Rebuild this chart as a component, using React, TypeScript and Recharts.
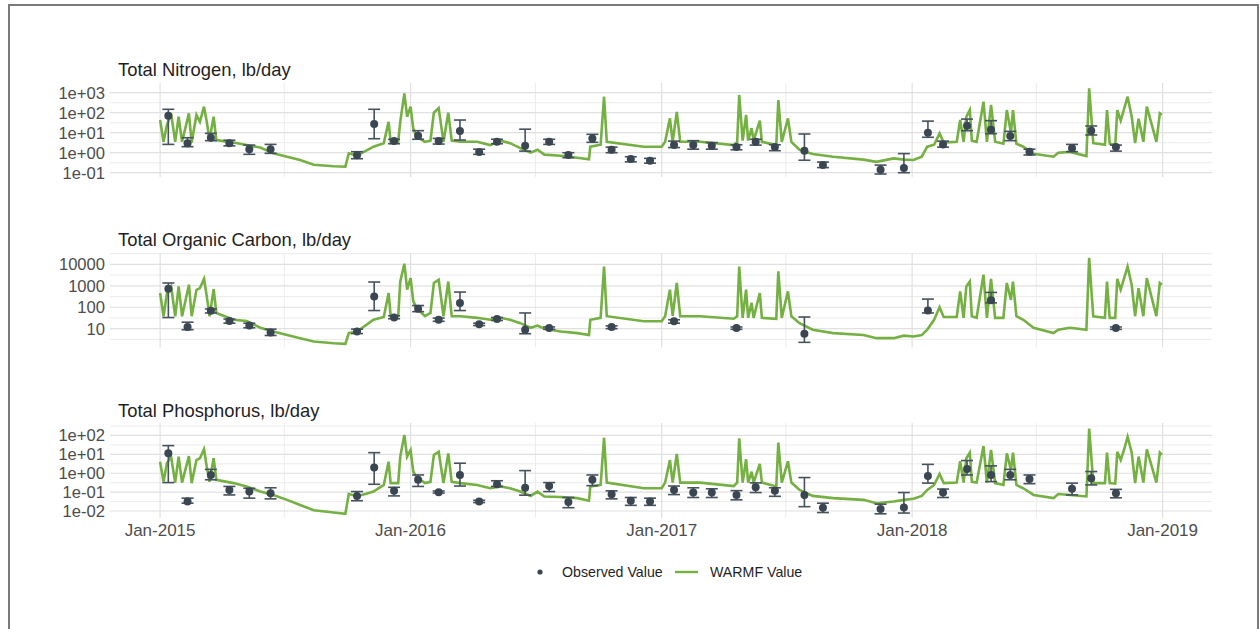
import React from "react";
import {
  ComposedChart,
  Line,
  Scatter,
  ErrorBar,
  XAxis,
  YAxis,
  CartesianGrid,
} from "recharts";

// all dates are days counted from 2015-01-01
const modelDays = [
  0, 5, 10, 16, 22, 27, 32, 42, 46, 53, 58, 64, 68, 72, 78, 82, 107, 126, 146, 165,
  185, 204, 224, 253, 270, 275, 287, 311, 326, 333, 336, 347, 350, 356, 360, 365,
  369, 374, 386, 394, 399, 406, 413, 420, 425, 438, 462, 481, 496, 510, 525, 540,
  550, 560, 584, 608, 625, 627, 642, 647, 651, 705, 731, 736, 743, 747, 753, 758,
  787, 836, 841, 844, 849, 854, 857, 862, 865, 874, 877, 898, 901, 906, 915, 920,
  932, 951, 981, 1025, 1044, 1069, 1084, 1098, 1110, 1118, 1128, 1136, 1142, 1161,
  1166, 1171, 1175, 1180, 1183, 1190, 1200, 1205, 1211, 1217, 1229, 1234, 1240,
  1243, 1248, 1258, 1273, 1302, 1309, 1326, 1350, 1354, 1360, 1377, 1380, 1384,
  1392, 1395, 1400, 1405, 1410, 1416, 1421, 1426, 1433, 1438, 1446, 1452, 1457, 1460,
];

const tnModel = [
  43, 3.5, 25, 93, 3.5, 63, 3.5, 93, 3.2, 77, 35, 200, 35, 4.3, 63, 4.3, 3.2, 2.4, 1.8, 0.93,
  0.63, 0.43, 0.25, 0.21, 0.2, 0.93, 0.71, 2.0, 3.0, 35, 3.5, 3.5, 35, 930, 63, 200,
  16, 6.3, 3.5, 4.0, 100, 170, 3.5, 100, 4.0, 3.5, 3.5, 2.4, 4.0, 3.0, 1.7, 1.0,
  1.4, 0.8, 0.71, 0.56, 0.47, 2.0, 2.5, 630, 3.5, 2.0, 2.0, 3.5, 52, 3.5, 110, 3.5,
  3.5, 2.4, 3.5, 770, 4.0, 77, 4.0, 17, 4.0, 40, 3.5, 2.4, 430, 3.5, 52, 3.5,
  1.4, 0.86, 0.63, 0.45, 0.35, 0.52, 0.45, 0.43, 0.63, 2.0, 2.5, 9.3, 3.2, 3.5,
  43, 3.5, 63, 135, 4.0, 3.5, 355, 3.5, 243, 3.5, 2.8, 135, 10,
  135, 2.8, 2.0, 0.89, 0.63, 1.0, 1.1, 0.68, 1660, 3.0, 2.5, 135, 2.8,
  2.5, 135, 40, 160, 630, 63, 3.0, 50, 3.5, 200, 20, 3.5, 93, 79,
];

const tocModel = [
  460, 38, 460, 930, 38, 930, 38, 1120, 38, 650, 780, 2100, 320, 38, 690, 54, 26, 23, 11, 7.4,
  5.1, 3.6, 2.5, 2.1, 1.95, 6.2, 7.4, 26, 35, 460, 38, 38, 1580, 10700, 660, 2300,
  186, 91, 38, 54, 1350, 1900, 38, 1580, 38, 38, 32, 26, 32, 26, 18, 11,
  14, 10, 7.4, 6.2, 5.1, 26, 32, 7900, 38, 22, 22, 38, 660, 40, 1350, 38,
  38, 29, 38, 7900, 32, 660, 32, 160, 32, 460, 32, 29, 4700, 32, 550, 38,
  18, 8.9, 6.2, 5.1, 3.6, 3.6, 4.7, 4.3, 5.0, 8.9, 26, 100, 35, 35,
  550, 32, 930, 1580, 38, 32, 3300, 32, 2100, 32, 32, 1350, 220,
  1580, 38, 26, 11, 6.2, 8.9, 11, 8.9, 20000, 38, 32, 1580, 32,
  32, 2100, 660, 2300, 7900, 1120, 38, 780, 38, 2300, 220, 38, 1350, 1120,
];

const tpModel = [
  4.1, 0.36, 3.4, 7.6, 0.32, 7.6, 0.32, 8.1, 0.3, 5.0, 6.2, 18.6, 2.2, 0.35, 6.2, 0.45, 0.3, 0.2, 0.107, 0.071,
  0.039, 0.021, 0.011, 0.0083, 0.0071, 0.081, 0.059, 0.107, 0.24, 4.1, 0.3, 0.3, 7.6, 105, 7.6, 17,
  1.2, 0.62, 0.3, 0.35, 9.3, 13.8, 0.3, 11.2, 0.35, 0.3, 0.24, 0.16, 0.2, 0.16, 0.107, 0.063,
  0.107, 0.059, 0.055, 0.048, 0.035, 0.2, 0.24, 76, 0.32, 0.16, 0.16, 0.32, 5.0, 0.32, 10.5, 0.32,
  0.32, 0.21, 0.32, 71, 0.32, 5.5, 0.32, 1.2, 0.32, 3.1, 0.32, 0.2, 42, 0.32, 4.3, 0.32,
  0.13, 0.063, 0.048, 0.039, 0.026, 0.032, 0.039, 0.045, 0.063, 0.13, 0.24, 0.91, 0.3, 0.32,
  4.3, 0.32, 6.2, 12.3, 0.35, 0.32, 27.5, 0.32, 17, 0.3, 0.24, 11.2, 1.5,
  12.3, 0.24, 0.16, 0.071, 0.048, 0.079, 0.071, 0.059, 234, 0.3, 0.3, 12.3, 0.3,
  0.28, 13.8, 5.0, 18.6, 85, 12.3, 0.3, 7.6, 0.32, 18.6, 1.8, 0.32, 12.3, 9.3,
];

const obsDays = [
  12, 40, 74, 101, 130, 161, 287, 312, 341, 376, 406, 437, 465, 491, 532, 567, 595, 630, 658, 686,
  714, 749, 777, 804, 840, 868, 896, 939, 966, 1050, 1084, 1119, 1141, 1176, 1211, 1239, 1267, 1329, 1357, 1393,
];
const tnObs = [
  71, 3.0, 5.6, 3.0, 1.5, 1.5, 0.74, 27, 3.8, 7.0, 3.8, 12, 1.07, 3.5, 2.2, 3.5, 0.77, 5.2, 1.4, 0.48,
  0.4, 2.4, 2.4, 2.2, 1.9, 3.5, 1.9, 1.26, 0.24, 0.14, 0.17, 10, 2.6, 22, 14, 6.8, 1.1, 1.65, 12.6, 1.9,
];
const tnLow = [
  2.6, 2.0, 4.0, 2.2, 0.83, 0.93, 0.5, 5.0, 2.8, 4.7, 2.7, 4.3, 0.83, 2.8, 1.2, 2.6, 0.56, 3.3, 1.0, 0.35,
  0.3, 1.8, 1.5, 1.5, 1.4, 2.4, 1.26, 0.42, 0.18, 0.086, 0.1, 5.9, 1.9, 12.6, 8.9, 4.0, 0.77, 1.12, 7.7, 1.2,
];
const tnHigh = [
  148, 5.6, 9.3, 4.2, 2.4, 2.6, 1.12, 148, 4.7, 12.6, 5.2, 43, 1.5, 4.7, 15, 4.7, 1.0, 8.3, 1.9, 0.63,
  0.52, 3.8, 4.0, 3.2, 2.5, 4.7, 2.5, 8.6, 0.34, 0.24, 0.9, 38, 3.8, 48, 40, 11.7, 1.5, 2.6, 21.6, 2.4,
];

const tocObsDays = [
  12, 40, 74, 101, 130, 161, 287, 312, 341, 376, 406, 437, 465, 491, 532, 567, 658, 749, 840, 939, 1119, 1211, 1393,
];
const tocObs = [730, 12, 69, 23, 14, 6.6, 7.4, 316, 33, 85, 26, 158, 16, 28, 8.9, 10.7, 11.8, 22, 10.7, 5.8, 70, 210, 10.7];
const tocLow = [33, 8.9, 54, 18, 11, 4.8, 5.9, 70, 29, 62, 22, 70, 14, 24, 5.8, 9.3, 10, 18, 9.3, 2.3, 54, 160, 9.3];
const tocHigh = [1350, 20, 83, 28, 18, 9.5, 9.5, 1500, 40, 120, 31, 510, 18, 33, 54, 12, 13.5, 26, 12, 35, 240, 490, 12];

const tpObs = [
  11.4, 0.032, 0.81, 0.13, 0.107, 0.087, 0.063, 2.0, 0.12, 0.45, 0.1, 0.81, 0.032, 0.26, 0.17, 0.21, 0.03, 0.45, 0.078, 0.035,
  0.032, 0.13, 0.095, 0.095, 0.071, 0.18, 0.12, 0.07, 0.015, 0.0126, 0.0155, 0.72, 0.095, 1.7, 0.81, 0.81, 0.5, 0.15, 0.55, 0.087,
];
const tpLow = [
  0.32, 0.026, 0.45, 0.071, 0.048, 0.044, 0.035, 0.26, 0.063, 0.2, 0.089, 0.21, 0.028, 0.2, 0.069, 0.107, 0.015, 0.22, 0.044, 0.02,
  0.02, 0.074, 0.052, 0.052, 0.039, 0.095, 0.06, 0.017, 0.0083, 0.0071, 0.0078, 0.3, 0.052, 0.81, 0.36, 0.45, 0.28, 0.071, 0.24, 0.05,
];
const tpHigh = [
  29, 0.048, 1.6, 0.2, 0.16, 0.17, 0.107, 12.3, 0.18, 0.81, 0.115, 3.4, 0.037, 0.4, 1.38, 0.32, 0.052, 0.81, 0.117, 0.052,
  0.048, 0.21, 0.17, 0.15, 0.12, 0.31, 0.17, 0.59, 0.026, 0.023, 0.095, 2.95, 0.145, 4.7, 2.45, 1.6, 0.81, 0.3, 1.23, 0.14,
];

const yearTicks = [0, 365, 731, 1096, 1461];
const yearLabels = ["Jan-2015", "Jan-2016", "Jan-2017", "Jan-2018", "Jan-2019"];
const midYears = [181, 547, 912, 1277];

const FONT = "'Liberation Sans', Arial, Helvetica, sans-serif";
const GREEN = "#75b043";
const SLATE = "#3a4652";

const sciLabel = (v: number) => {
  const e = Math.round(Math.log10(v));
  return `1e${e < 0 ? "-" : "+"}${String(Math.abs(e)).padStart(2, "0")}`;
};
const plainLabel = (v: number) => String(Math.round(v));

const Dot = (p: any) => <circle cx={p.cx} cy={p.cy} r={4} fill={SLATE} />;

interface PanelProps {
  top: number;
  height: number;
  model: number[];
  days: number[];
  obs: number[];
  low: number[];
  high: number[];
  domain: [number, number];
  majors: number[];
  minors: number[];
  fmt: (v: number) => string;
  showX?: boolean;
}

function Panel({ top, height, model, days, obs, low, high, domain, majors, minors, fmt, showX }: PanelProps) {
  const lineData = modelDays.map((d, i) => ({ day: d, v: model[i] }));
  const obsData = days.map((d, i) => ({ day: d, v: obs[i], err: [obs[i] - low[i], high[i] - obs[i]] }));
  return (
    <div style={{ position: "absolute", left: 0, top, width: 1259, height }}>
      <ComposedChart width={1259} height={height} margin={{ top: 10, right: 47, bottom: showX ? 0 : 10, left: 0 }}>
        <CartesianGrid horizontalValues={minors} verticalValues={midYears} stroke="#ececec" strokeWidth={1} />
        <CartesianGrid horizontalValues={majors} verticalValues={yearTicks} stroke="#e0e0e0" strokeWidth={1.2} />
        <XAxis
          type="number"
          dataKey="day"
          domain={[-73, 1533]}
          allowDataOverflow
          ticks={yearTicks}
          interval={0}
          tickFormatter={(d: number) => yearLabels[yearTicks.indexOf(d)]}
          hide={!showX}
          height={30}
          axisLine={false}
          tickLine={false}
          tickSize={0}
          tickMargin={6}
          tick={{ fontSize: 17, fill: "#4d4d4d", fontFamily: FONT }}
        />
        <YAxis
          type="number"
          scale="log"
          domain={domain}
          allowDataOverflow
          ticks={majors}
          interval={0}
          tickFormatter={fmt}
          width={110}
          axisLine={false}
          tickLine={false}
          tickSize={0}
          tickMargin={5}
          tick={{ fontSize: 16.6, fill: "#4d4d4d", fontFamily: FONT }}
        />
        <Line data={lineData} dataKey="v" type="linear" stroke={GREEN} strokeWidth={2.6} dot={false} isAnimationActive={false} />
        <Scatter data={obsData} dataKey="v" shape={Dot} isAnimationActive={false}>
          <ErrorBar dataKey="err" direction="y" width={6} stroke="#46525d" strokeWidth={1.6} isAnimationActive={false} />
        </Scatter>
      </ComposedChart>
    </div>
  );
}

export default function App() {
  return (
    <div style={{ position: "absolute", left: 0, top: 0, width: 1259, height: 629, background: "#fff", overflow: "hidden" }}>
      <div
        style={{
          position: "absolute",
          left: 8,
          top: 4,
          width: 1251,
          height: 700,
          border: "2px solid #7a7a7a",
          boxSizing: "border-box",
        }}
      />
      <Panel
        top={73}
        height={114}
        model={tnModel}
        days={obsDays}
        obs={tnObs}
        low={tnLow}
        high={tnHigh}
        domain={[Math.pow(10, -1.215), Math.pow(10, 3.485)]}
        majors={[0.1, 1, 10, 100, 1000]}
        minors={[0.316, 3.16, 31.6, 316]}
        fmt={sciLabel}
      />
      <Panel
        top={243.3}
        height={114.4}
        model={tocModel}
        days={tocObsDays}
        obs={tocObs}
        low={tocLow}
        high={tocHigh}
        domain={[Math.pow(10, 0.126), Math.pow(10, 4.53)]}
        majors={[10, 100, 1000, 10000]}
        minors={[3.16, 31.6, 316, 3162, 31623]}
        fmt={plainLabel}
      />
      <Panel
        top={413.3}
        height={135}
        model={tpModel}
        days={obsDays}
        obs={tpObs}
        low={tpLow}
        high={tpHigh}
        domain={[Math.pow(10, -2.37), Math.pow(10, 2.66)]}
        majors={[0.01, 0.1, 1, 10, 100]}
        minors={[0.0316, 0.316, 3.16, 31.6, 316]}
        fmt={sciLabel}
        showX
      />
      <svg width={1259} height={629} style={{ position: "absolute", left: 0, top: 0, pointerEvents: "none" }}>
        <g fontFamily={FONT} fill="#1f1f1f">
          <text x={118} y={76} fontSize={18.4}>Total Nitrogen, lb/day</text>
          <text x={118} y={246} fontSize={18.4}>Total Organic Carbon, lb/day</text>
          <text x={118} y={416.7} fontSize={18.4}>Total Phosphorus, lb/day</text>
        </g>
        <circle cx={540} cy={572} r={2.6} fill={SLATE} />
        <text x={562} y={577} fontSize={14.2} fontFamily={FONT} fill="#1f1f1f">Observed Value</text>
        <line x1={675} y1={572} x2={698} y2={572} stroke={GREEN} strokeWidth={2.4} />
        <text x={710} y={577} fontSize={14.2} fontFamily={FONT} fill="#1f1f1f">WARMF Value</text>
      </svg>
    </div>
  );
}
